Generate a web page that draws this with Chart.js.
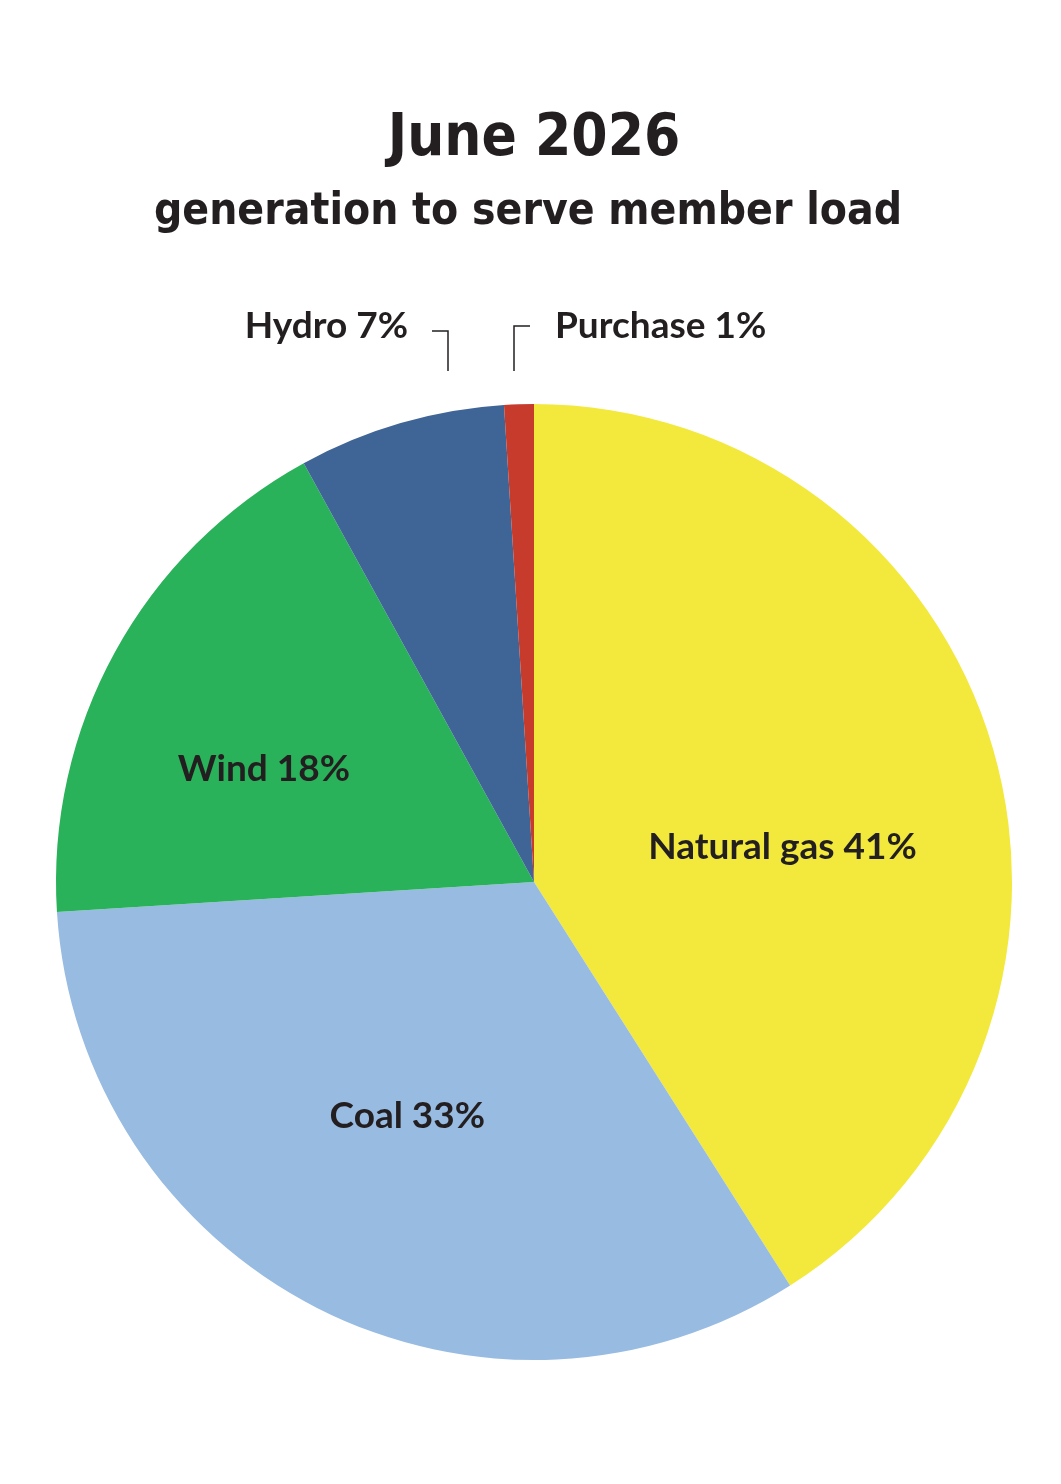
<!DOCTYPE html>
<html><head><meta charset="utf-8">
<script src="https://cdn.jsdelivr.net/npm/chart.js@4"></script>
<style>html,body{margin:0;padding:0;background:#fff}#wrap{width:1061px;height:1484px;position:relative}</style>
</head><body><div id="wrap"><canvas id="c"></canvas></div>
<script>
const categories = ["Natural gas", "Coal", "Wind", "Hydro", "Purchase"];
const values = [41, 33, 18, 7, 1];
const colors = ["#f2e93c", "#98bbe2", "#29b25a", "#3f6496", "#c63b2b"];
const titleText = "June 2026";
const subtitleText = "generation to serve member load";

const labelPlugin = {
  id: 'labels',
  afterDraw(chart) {
    const ctx = chart.ctx;
    const arc = chart.getDatasetMeta(0).data[0];
    const cx = arc.x, cy = arc.y, R = arc.outerRadius;
    ctx.save();
    ctx.fillStyle = '#231f20';
    ctx.textBaseline = 'middle';
    ctx.textAlign = 'center';
    ctx.font = 'bold 58px "DejaVu Sans Condensed", "DejaVu Sans"';
    ctx.fillText(titleText, cx, 140);
    ctx.font = 'bold 44px "DejaVu Sans Condensed", "DejaVu Sans"';
    ctx.fillText(subtitleText, cx - 6, 213);
    ctx.font = 'bold 37px Lato, "Open Sans"';
    const inside = {0: [0.52, -0.074], 1: [-0.265, 0.49], 2: [-0.565, -0.236]};
    for (const i in inside) {
      ctx.fillText(categories[i] + ' ' + values[i] + '%', cx + inside[i][0] * R, cy + inside[i][1] * R);
    }
    ctx.textAlign = 'right';
    ctx.fillText(categories[3] + ' ' + values[3] + '%', cx - 126, 326);
    ctx.textAlign = 'left';
    ctx.fillText(categories[4] + ' ' + values[4] + '%', cx + 21, 326);
    ctx.strokeStyle = '#231f20';
    ctx.lineWidth = 1.5;
    ctx.beginPath();
    ctx.moveTo(cx - 102, 331); ctx.lineTo(cx - 86, 331); ctx.lineTo(cx - 86, 371);
    ctx.moveTo(cx - 4, 326); ctx.lineTo(cx - 20, 326); ctx.lineTo(cx - 20, 371);
    ctx.stroke();
    ctx.restore();
  }
};

new Chart(document.getElementById('c'), {
  type: 'pie',
  data: { labels: categories, datasets: [{ data: values, backgroundColor: colors, borderWidth: 0 }] },
  options: {
    responsive: true, maintainAspectRatio: false, animation: false,
    layout: { padding: { left: 56, right: 49, top: 404, bottom: 124 } },
    plugins: { legend: { display: false }, tooltip: { enabled: false } }
  },
  plugins: [labelPlugin]
});
</script></body></html>
